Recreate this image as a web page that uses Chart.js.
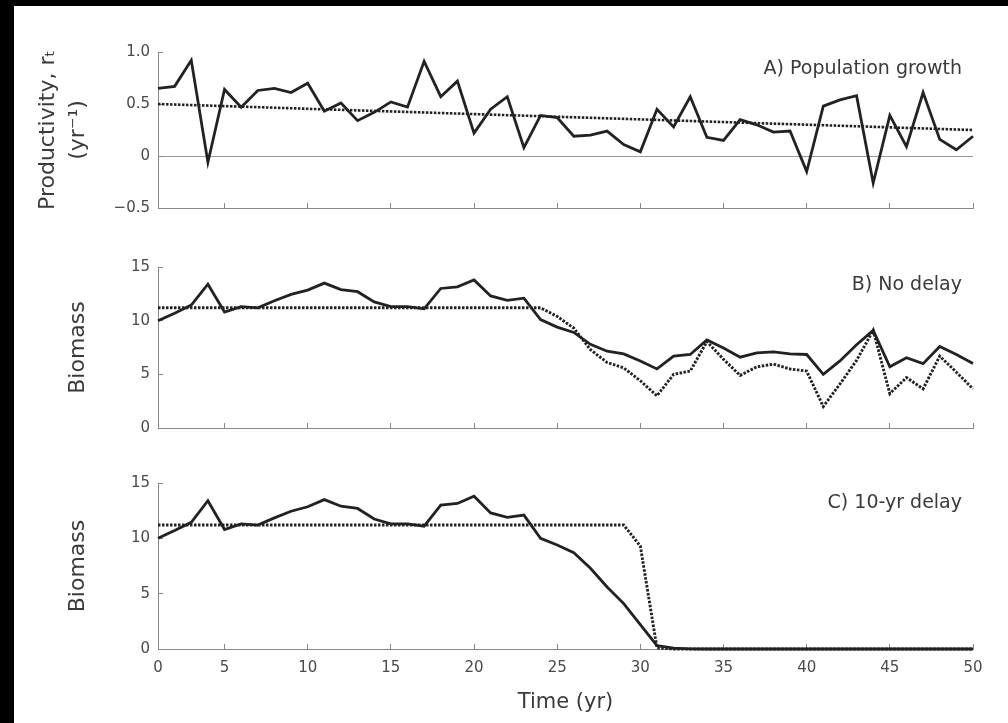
<!DOCTYPE html>
<html lang="en">
<head>
  <meta charset="UTF-8" />
  <title>Productivity and biomass under harvest delay</title>
  <script src="https://cdn.jsdelivr.net/npm/chart.js"></script>
  <style>
    html, body { margin: 0; padding: 0; background: #000; }
    body { width: 1008px; height: 723px; position: relative; overflow: hidden; }
    #sheet { position: absolute; left: 14px; top: 6px; right: 0; bottom: 0; background: #fff; }
    canvas { position: absolute; left: 0; }
    #chartA { top: 30px; }
    #chartB { top: 240px; }
    #chartC { top: 460px; }
  </style>
</head>
<body>
  <div id="sheet"></div>
  <canvas id="chartA" width="1008" height="200"></canvas>
  <canvas id="chartB" width="1008" height="210"></canvas>
  <canvas id="chartC" width="1008" height="263"></canvas>

  <script>
    // years on the x axis
    const years = [1, 2, 3, 4, 5, 6, 7, 8, 9, 10,
      11, 12, 13, 14, 15, 16, 17, 18, 19, 20,
      21, 22, 23, 24, 25, 26, 27, 28, 29, 30,
      31, 32, 33, 34, 35, 36, 37, 38, 39, 40,
      41, 42, 43, 44, 45, 46, 47, 48, 49, 50];
    const xTickValues = [1, 5, 10, 15, 20, 25, 30, 35, 40, 45, 50];
    const xTickLabels = ['0', '5', '10', '15', '20', '25', '30', '35', '40', '45', '50'];

    // A) productivity r_t and its trend
    const growthRate = [0.65, 0.67, 0.92, -0.06, 0.64, 0.47, 0.63, 0.65, 0.61, 0.70,
      0.43, 0.51, 0.34, 0.42, 0.52, 0.47, 0.91, 0.57, 0.72, 0.22,
      0.45, 0.57, 0.08, 0.39, 0.37, 0.19, 0.20, 0.24, 0.11, 0.04,
      0.45, 0.28, 0.57, 0.18, 0.15, 0.35, 0.30, 0.23, 0.24, -0.15,
      0.48, 0.54, 0.58, -0.26, 0.39, 0.09, 0.61, 0.16, 0.06, 0.19];
    const trendYears = [1, 50];
    const trendValues = [0.50, 0.25];
    const growthTicks = [-0.5, 0, 0.5, 1.0];
    const growthTickLabels = ['\u22120.5', '0', '0.5', '1.0'];

    // B) no delay
    const biomassNoDelay = [10.0, 10.7, 11.45, 13.4, 10.8, 11.3, 11.2, 11.85, 12.45, 12.85,
      13.5, 12.9, 12.7, 11.75, 11.3, 11.3, 11.1, 13.0, 13.15, 13.8,
      12.3, 11.9, 12.1, 10.1, 9.4, 8.9, 7.8, 7.15, 6.9, 6.25,
      5.5, 6.7, 6.85, 8.2, 7.45, 6.6, 7.0, 7.1, 6.9, 6.85,
      5.0, 6.25, 7.75, 9.1, 5.7, 6.55, 6.0, 7.6, 6.85, 6.0];
    const estimateNoDelay = [11.2, 11.2, 11.2, 11.2, 11.2, 11.2, 11.2, 11.2, 11.2, 11.2,
      11.2, 11.2, 11.2, 11.2, 11.2, 11.2, 11.2, 11.2, 11.2, 11.2,
      11.2, 11.2, 11.2, 11.2, 10.4, 9.3, 7.3, 6.1, 5.6, 4.4,
      3.0, 5.0, 5.3, 8.05, 6.4, 4.9, 5.7, 5.95, 5.5, 5.3,
      2.0, 4.1, 6.3, 9.1, 3.2, 4.7, 3.65, 6.7, 5.2, 3.65];

    // C) 10-yr delay
    const biomassDelay = [10.0, 10.7, 11.45, 13.4, 10.8, 11.3, 11.2, 11.85, 12.45, 12.85,
      13.5, 12.9, 12.7, 11.75, 11.3, 11.3, 11.1, 13.0, 13.15, 13.8,
      12.3, 11.9, 12.1, 10.0, 9.4, 8.7, 7.3, 5.6, 4.1, 2.2,
      0.3, 0.08, 0.02, 0, 0, 0, 0, 0, 0, 0,
      0, 0, 0, 0, 0, 0, 0, 0, 0, 0];
    const estimateDelay = [11.2, 11.2, 11.2, 11.2, 11.2, 11.2, 11.2, 11.2, 11.2, 11.2,
      11.2, 11.2, 11.2, 11.2, 11.2, 11.2, 11.2, 11.2, 11.2, 11.2,
      11.2, 11.2, 11.2, 11.2, 11.2, 11.2, 11.2, 11.2, 11.2, 9.3,
      0.1, 0, 0, 0, 0, 0, 0, 0, 0, 0,
      0, 0, 0, 0, 0, 0, 0, 0, 0, 0];
    const biomassTicks = [0, 5, 10, 15];
    const biomassTickLabels = ['0', '5', '10', '15'];

    const panelTitles = ['A) Population growth', 'B) No delay', 'C) 10-yr delay'];

    const FONT = '"DejaVu Sans", sans-serif';
    const INK = '#222';

    // panel letter text in the top right corner of the plot
    const panelLabel = {
      id: 'panelLabel',
      afterDraw(chart, args, opts) {
        const { ctx, chartArea } = chart;
        ctx.save();
        ctx.font = '19px ' + FONT;
        ctx.fillStyle = '#3a3a3a';
        ctx.textAlign = 'right';
        ctx.textBaseline = 'middle';
        ctx.fillText(opts.text, chartArea.right - 11, chartArea.top + opts.dy);
        ctx.restore();
      }
    };

    function series(xs, values, dotted, width) {
      return {
        data: xs.map((t, i) => ({ x: t, y: values[i] })),
        borderColor: INK,
        borderWidth: width,
        borderDash: dotted ? [2.5, 1.5] : [],
        pointRadius: 0,
        tension: 0,
        fill: false,
        clip: false
      };
    }

    function xAxis(height, showLabels) {
      return {
        type: 'linear',
        min: 1,
        max: 50,
        afterBuildTicks: s => { s.ticks = xTickValues.map(v => ({ value: v })); },
        afterFit: s => { s.height = height; },
        border: { color: '#888', width: 1 },
        grid: { drawOnChartArea: false, tickLength: -5, color: '#888' },
        ticks: {
          display: showLabels,
          autoSkip: false,
          maxRotation: 0,
          padding: 15,
          color: '#4a4a4a',
          font: { family: FONT, size: 15 },
          callback: (v, i) => xTickLabels[i]
        },
        title: {
          display: showLabels,
          text: 'Time (yr)',
          color: '#3a3a3a',
          font: { family: FONT, size: 21 },
          padding: { top: 0, bottom: 8 }
        }
      };
    }

    function yAxis(min, max, tickVals, tickLabels, title, titlePad, zeroLine) {
      return {
        type: 'linear',
        min: min,
        max: max,
        afterBuildTicks: s => { s.ticks = tickVals.map(v => ({ value: v })); },
        afterFit: s => { s.width = 158; },
        border: { color: '#888', width: 1 },
        grid: {
          drawOnChartArea: zeroLine,
          tickLength: -5,
          tickColor: '#888',
          color: ctx => (ctx.tick && ctx.tick.value === 0) ? '#999' : 'rgba(0,0,0,0)'
        },
        ticks: {
          padding: 13,
          color: '#4a4a4a',
          font: { family: FONT, size: 15 },
          callback: (v, i) => tickLabels[i]
        },
        title: {
          display: true,
          text: title,
          color: '#3a3a3a',
          font: { family: FONT, size: 22, lineHeight: 1.36 },
          padding: { top: titlePad, bottom: 0 }
        }
      };
    }

    function makeChart(id, datasets, x, y, padTop, label, dy) {
      return new Chart(document.getElementById(id), {
        type: 'line',
        data: { datasets: datasets },
        options: {
          responsive: false,
          animation: false,
          devicePixelRatio: 1,
          layout: { padding: { top: padTop, right: 35, left: 0, bottom: 0 } },
          plugins: {
            legend: { display: false },
            tooltip: { enabled: false },
            panelLabel: { text: label, dy: dy }
          },
          scales: { x: x, y: y }
        },
        plugins: [panelLabel]
      });
    }

    makeChart('chartA',
      [series(years, growthRate, false, 2.8), series(trendYears, trendValues, true, 2.6)],
      xAxis(16, false),
      yAxis(-0.5, 1.0, growthTicks, growthTickLabels, ['Productivity, r\u209C', '(yr\u207B\u00B9)'], 33, true),
      21, panelTitles[0], 17);

    makeChart('chartB',
      [series(years, biomassNoDelay, false, 2.8), series(years, estimateNoDelay, true, 2.9)],
      xAxis(18, false),
      yAxis(0, 15, biomassTicks, biomassTickLabels, 'Biomass', 63, false),
      27, panelTitles[1], 18);

    makeChart('chartC',
      [series(years, biomassDelay, false, 2.8), series(years, estimateDelay, true, 2.9)],
      xAxis(74, true),
      yAxis(0, 15, biomassTicks, biomassTickLabels, 'Biomass', 63, false),
      23, panelTitles[2], 20);
  </script>
</body>
</html>
